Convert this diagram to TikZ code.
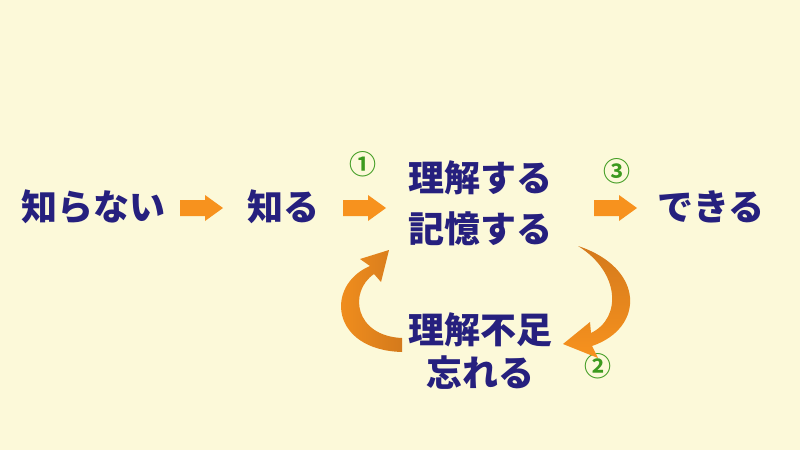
\documentclass[tikz,border=0pt]{standalone}
\usepackage{fontspec}
\setmainfont{Noto Sans CJK JP}[BoldFont={Noto Sans CJK JP Black}]
\newfontfamily\numfont{Noto Sans CJK JP Bold}
\begin{document}
\begin{tikzpicture}[x=1pt,y=-1pt]
\definecolor{bg}{HTML}{FCF9D9}
\definecolor{ink}{HTML}{26207E}
\definecolor{org}{HTML}{F7921E}
\definecolor{dorg}{HTML}{D47A1C}
\definecolor{grn}{HTML}{3C9A1E}
\tikzset{lbl/.style={text=ink,font=\fontsize{36}{42}\selectfont\bfseries,inner sep=0pt},
 num/.style={text=grn,font=\numfont\fontsize{27}{29}\selectfont,inner sep=0pt},
 barrow/.style={fill=org}}
\fill[bg] (0,0) rectangle (800,450);
\node[lbl] (a) at (93,207) {知らない};
\node[lbl] (b) at (283,207) {知る};
\node[lbl] (c1) at (480,178) {理解する};
\node[lbl] (c2) at (480,229) {記憶する};
\node[lbl] (d) at (711,207) {できる};
\node[lbl] (e1) at (480,330) {理解不足};
\node[lbl] (e2) at (480,373) {忘れる};
\node[num] (n1) at (363,164) {①};
\node[num] (n3) at (617,171) {③};
\node[num] (n2) at (598,366) {②};
\foreach \x in {180,343,594}{
\fill[barrow] (\x,200) -- (\x+25,200) -- (\x+25,195) -- (\x+43,208) -- (\x+25,221) -- (\x+25,216) -- (\x,216) -- cycle;}
% right crescent
\shade[left color=dorg,right color=org,shading angle=0]
 (578,246) .. controls (645,268) and (645,328) .. (592,346) -- (598,358) -- (563,344) -- (590,322) -- (591,333) .. controls (622,318) and (620,272) .. (578,246) -- cycle;
% left crescent
\shade[left color=org,right color=dorg]
 (402,352) .. controls (330,350) and (325,285) .. (370,266) -- (360,259) -- (389,250) -- (381,282) -- (374,274) .. controls (348,292) and (355,336) .. (402,338) -- cycle;
\end{tikzpicture}
\end{document}
